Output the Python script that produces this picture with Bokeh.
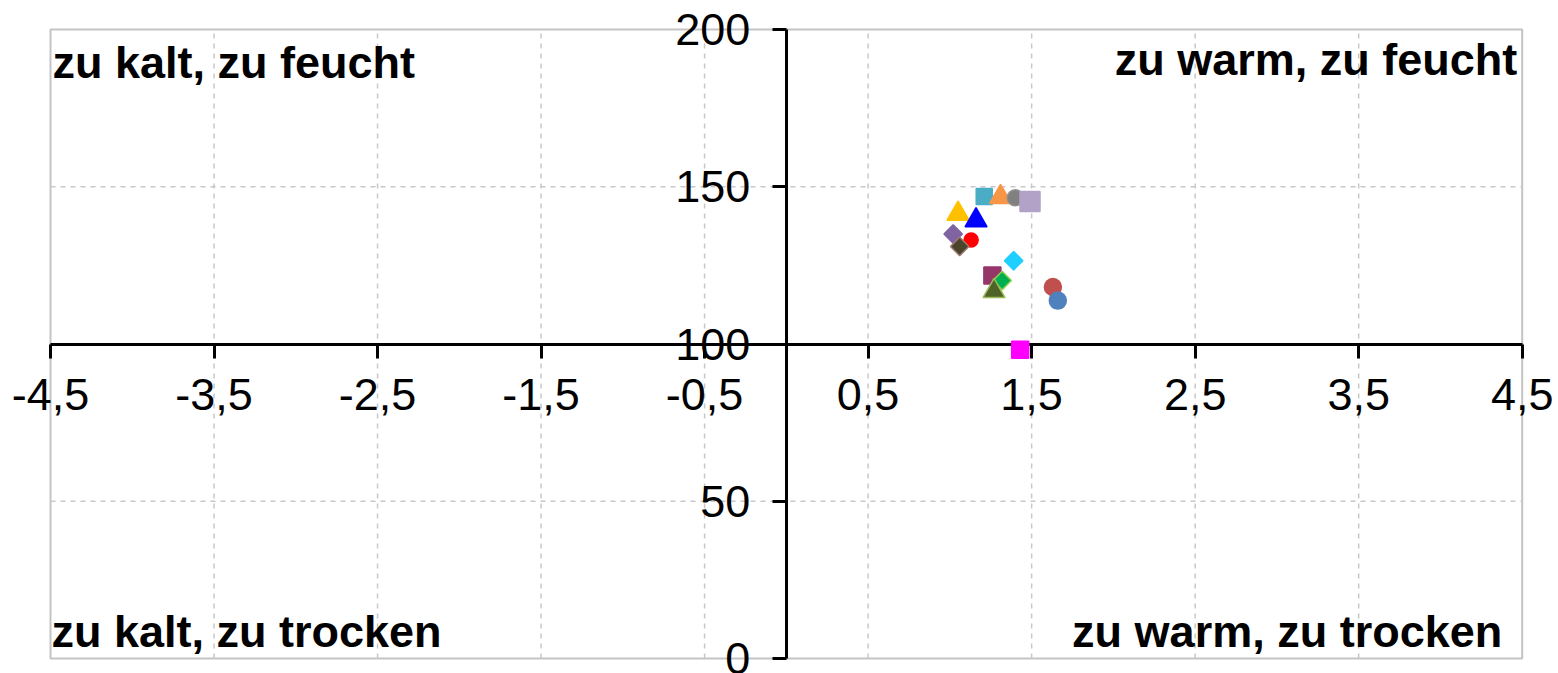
from bokeh.plotting import figure
from bokeh.models import ColumnDataSource, FixedTicker, CustomJSTickFormatter, Label, Range1d
from bokeh.embed import file_html
from bokeh.resources import INLINE
import math

# ---- data (temperature anomaly in K, precipitation in % of normal) ----
temp_anomaly = [1.21, 1.31, 1.40, 1.49, 1.05, 1.16, 1.02, 1.13, 1.06, 1.39, 1.26, 1.32, 1.27, 1.63, 1.66, 1.43]
precip_pct = [146.9, 146.7, 146.5, 145.3, 141.4, 139.3, 135.0, 133.1, 131.0, 126.5, 121.8, 120.2, 116.8, 118.1, 113.8, 98.2]

x_ticks = [-4.5, -3.5, -2.5, -1.5, -0.5, 0.5, 1.5, 2.5, 3.5, 4.5]
x_grid = [-3.5, -2.5, -1.5, -0.5, 0.5, 1.5, 2.5, 3.5]
y_ticks = [0, 50, 100, 150, 200]
y_grid = [50, 150]

quadrant_labels = ["zu kalt, zu feucht", "zu warm, zu feucht", "zu kalt, zu trocken", "zu warm, zu trocken"]

# ---- styles per series ----
markers = ["square", "triangle", "circle", "square", "triangle", "triangle", "square", "circle",
           "square", "square", "square", "square", "triangle", "circle", "circle", "square"]
fill_colors = ["#4BACC6", "#F79646", "#808080", "#B3A2C7", "#FFC000", "#0000FF", "#8064A2", "#FF0000",
               "#4A452A", "#1ECFFF", "#953669", "#00B050", "#4F6228", "#C0504D", "#4F81BD", "#FF00FF"]
line_colors = ["#4BACC6", "#F79646", "#909090", "#B3A2C7", "#FFC000", "#0000FF", "#8064A2", "#FF0000",
               "#9A7A70", "#1ECFFF", "#953669", "#92D050", "#9BBB59", "#C0504D", "#4F81BD", "#FF00FF"]
sizes = [16, 22, 16, 20, 22, 22, 13, 14, 13, 13, 17, 13, 22, 17, 17, 17]
angles = [0, 0, 0, 0, 0, 0, math.pi / 4, 0, math.pi / 4, math.pi / 4, 0, math.pi / 4, 0, 0, 0, 0]

source = ColumnDataSource(dict(x=temp_anomaly, y=precip_pct, marker=markers, fill=fill_colors,
                               line=line_colors, size=sizes, angle=angles))

x0, x1 = x_ticks[0], x_ticks[-1]
y0, y1 = y_ticks[0], y_ticks[-1]

# ---- layout: the frame covers the whole figure, the plot area sits inside it ----
W, H = 1556, 673
PA_L, PA_R, PA_T, PA_B = 50.0, 1521.7, 29.0, 658.0   # plot area in pixels
kx = (x1 - x0) / (PA_R - PA_L)
ky = (y1 - y0) / (PA_B - PA_T)
xr = Range1d(x0 - PA_L * kx, x1 + (W - PA_R) * kx)
yr = Range1d(y0 - (H - PA_B) * ky, y1 + PA_T * ky)

p = figure(width=W, height=H, x_range=xr, y_range=yr,
           output_backend="svg", toolbar_location=None,
           min_border_left=0, min_border_right=0, min_border_top=0, min_border_bottom=0)

p.background_fill_color = "white"
p.border_fill_color = "white"
p.outline_line_color = None
p.xgrid.visible = False
p.ygrid.visible = False

# plot-area border and dashed gridlines
border = p.quad(left=[x0], right=[x1], bottom=[y0], top=[y1], fill_color=None,
                line_color="#C4C4C4", line_width=2)
border.level = "underlay"
gx = p.segment(x0=x_grid, y0=[y0] * len(x_grid), x1=x_grid, y1=[y1] * len(x_grid),
               line_color="#C8C8C8", line_dash="5 5", line_width=1.5)
gy = p.segment(x0=[x0] * len(y_grid), y0=y_grid, x1=[x1] * len(y_grid), y1=y_grid,
               line_color="#C8C8C8", line_dash="5 5", line_width=1.5)
gx.level = "underlay"
gy.level = "underlay"

fmt = CustomJSTickFormatter(code="""
    if (Number.isInteger(tick)) { return tick.toString(); }
    return tick.toFixed(1).replace('.', ',');
""")

xa = p.xaxis[0]
xa.fixed_location = 100
xa.bounds = (x0, x1)
xa.ticker = FixedTicker(ticks=x_ticks, minor_ticks=[])
xa.major_label_standoff = 21

ya = p.yaxis[0]
ya.fixed_location = 0
ya.bounds = (y0, y1)
ya.ticker = FixedTicker(ticks=y_ticks, minor_ticks=[])
ya.major_label_standoff = 22

for ax in (xa, ya):
    ax.formatter = fmt
    ax.axis_line_color = "black"
    ax.axis_line_width = 3
    ax.major_tick_line_color = "black"
    ax.major_tick_line_width = 3
    ax.major_tick_out = 14
    ax.major_tick_in = 0
    ax.minor_tick_out = 0
    ax.minor_tick_in = 0
    ax.major_label_text_font = "Liberation Sans"
    ax.major_label_text_font_size = "45px"
    ax.major_label_text_color = "black"

r = p.scatter(x="x", y="y", marker="marker", size="size", angle="angle", fill_color="fill",
              line_color="line", line_width=1.5, source=source)
r.level = "overlay"

label_specs = [
    (quadrant_labels[0], x0, y1, 2, -33, "left"),
    (quadrant_labels[1], x1, y1, -5, -30, "right"),
    (quadrant_labels[2], x0, y0, 1, 27, "left"),
    (quadrant_labels[3], x1, y0, -20, 27, "right"),
]
for txt, lx, ly, dx, dy, align in label_specs:
    p.add_layout(Label(x=lx, y=ly, x_offset=dx, y_offset=dy, text=txt, text_align=align,
                       text_baseline="middle", text_font="Liberation Sans",
                       text_font_style="bold", text_font_size="45px", text_color="black"))

open("out.html", "w").write(file_html(p, INLINE))
